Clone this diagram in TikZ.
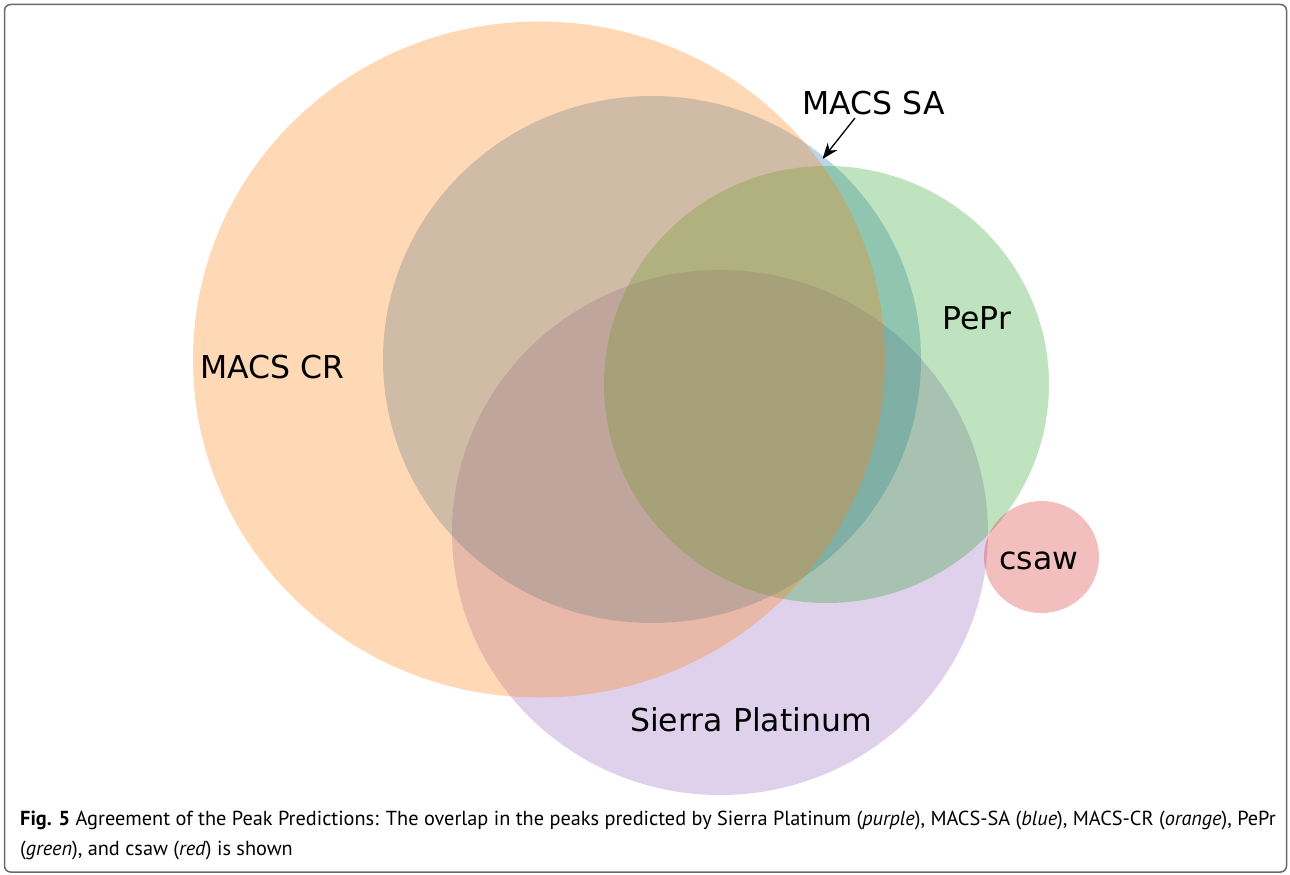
\documentclass[tikz,border=0pt]{standalone}
\usepackage{fontspec}
\setmainfont{DejaVu Sans}
\newfontfamily\capfont{PT Sans}
\usetikzlibrary{arrows.meta,shapes.geometric}
\definecolor{tabblue}{RGB}{31,119,180}
\definecolor{taborange}{RGB}{255,127,14}
\definecolor{tabgreen}{RGB}{44,160,44}
\definecolor{tabred}{RGB}{214,39,40}
\definecolor{tabpurple}{RGB}{148,103,189}
\definecolor{framegray}{RGB}{105,105,105}
\begin{document}
\begin{tikzpicture}[x=1pt,y=-1pt,
  setshape/.style={ellipse, draw=none, fill opacity=0.3, inner sep=0pt, outer sep=0pt},
  lbl/.style={font=\fontsize{31.5}{36}\selectfont, anchor=base, inner sep=0pt},
  caption/.style={font=\capfont\fontsize{20.3}{24}\selectfont, anchor=base west, inner sep=0pt}]
\useasboundingbox (0,0) rectangle (1290,875);
% frame
\draw[rounded corners=6pt, line width=1.5pt, draw=framegray] (4.5,4.5) rectangle (1286.5,872);
% sets
\node[setshape, fill=tabpurple, minimum width=536pt, minimum height=525pt] (sierra) at (720,532.5) {};
\node[setshape, fill=tabblue, minimum width=538pt, minimum height=527pt] (macssa) at (652,359.5) {};
\node[setshape, fill=tabgreen, minimum width=445pt, minimum height=437pt] (pepr) at (826.5,384.5) {};
\node[setshape, fill=taborange, minimum width=692pt, minimum height=676pt] (macscr) at (539,359.5) {};
\node[setshape, fill=tabred, minimum width=115pt, minimum height=112pt] (csaw) at (1041.5,557) {};
% labels
\node[lbl] (lcr) at (272.5,378) {MACS CR};
\node[lbl] (lsa) at (873.5,114) {MACS SA};
\node[lbl] (lpepr) at (977,329.5) {PePr};
\node[lbl] (lsierra) at (751,731.5) {Sierra Platinum};
\node[lbl] (lcsaw) at (1039,569) {csaw};
% pointer to the MACS SA sliver
\coordinate (sastart) at (855,118);
\coordinate (satip) at (822.5,159);
\draw[line width=1.3pt, -{Stealth[length=16pt, width=12pt, inset=5pt]}] (sastart) -- (satip);
% caption
\node[caption] (cap1) at (20,825) {{\bfseries Fig. 5} Agreement of the Peak Predictions: The overlap in the peaks predicted by Sierra Platinum (\textit{purple}), MACS-SA (\textit{blue}), MACS-CR (\textit{orange}), PePr};
\node[caption] (cap2) at (20,855) {(\textit{green}), and csaw (\textit{red}) is shown};
\end{tikzpicture}
\end{document}
